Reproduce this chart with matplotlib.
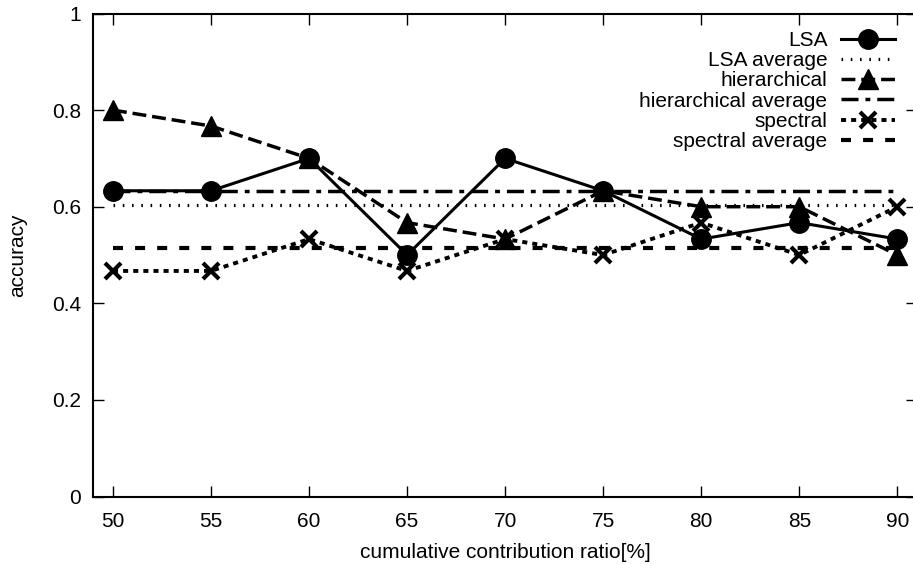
import matplotlib
matplotlib.use("Agg")
import matplotlib.pyplot as plt
import numpy as np

plt.rcParams['font.family'] = ['Liberation Sans', 'DejaVu Sans']

ratio = [50, 55, 60, 65, 70, 75, 80, 85, 90]
lsa = [0.633, 0.633, 0.700, 0.500, 0.700, 0.633, 0.533, 0.567, 0.533]
hierarchical = [0.800, 0.767, 0.700, 0.567, 0.533, 0.633, 0.600, 0.600, 0.500]
spectral = [0.467, 0.467, 0.533, 0.467, 0.533, 0.500, 0.567, 0.500, 0.600]
yticks = [0, 0.2, 0.4, 0.6, 0.8, 1]
ytick_labels = ["0", "0.2", "0.4", "0.6", "0.8", "1"]

lsa_avg = np.mean(lsa)
hier_avg = np.mean(hierarchical)
spec_avg = np.mean(spectral)

fig = plt.figure(figsize=(9.13, 5.64), dpi=100)
W, H = 913, 564
x0, x1, y0, y1 = 93.4, 916.9, 496.5, 13.5
ax = fig.add_axes([x0 / W, 1 - y0 / H, (x1 - x0) / W, (y0 - y1) / H])

fs = 15
ax.plot(ratio, lsa, color='black', lw=2.2, marker='o', markersize=14, label='LSA', zorder=5)
ax.plot([ratio[0], ratio[-1]], [lsa_avg, lsa_avg], color='black', lw=2.3,
        dashes=(0.5, 2.4), label='LSA average', zorder=2)
ax.plot(ratio, hierarchical, color='black', lw=2.5, dashes=(4, 1.7), marker='^',
        markersize=15, label='hierarchical', zorder=4)
ax.plot([ratio[0], ratio[-1]], [hier_avg, hier_avg], color='black', lw=2.5,
        dashes=(4.9, 2.0, 1.4, 2.0), label='hierarchical average', zorder=2)
ax.plot(ratio, spectral, color='black', lw=2.8, dashes=(1.3, 1.3), marker='x',
        markersize=11, markeredgewidth=3, label='spectral', zorder=3)
ax.plot([ratio[0], ratio[-1]], [spec_avg, spec_avg], color='black', lw=3.0,
        dashes=(2.4, 2.9), label='spectral average', zorder=2)

ax.set_xlim(49, 91)
ax.set_ylim(0, 1)
ax.set_xticks(ratio)
ax.set_xticklabels([str(r) for r in ratio], fontsize=fs)
ax.set_yticks(yticks)
ax.set_yticklabels(ytick_labels, fontsize=fs)
ax.tick_params(axis='x', pad=11)
ax.tick_params(axis='y', pad=9)
ax.tick_params(direction='in', length=8, width=1, top=True, right=True)
for s in ax.spines.values():
    s.set_linewidth(1.5)

ax.set_xlabel('cumulative contribution ratio[%]', fontsize=fs, labelpad=9)
ax.set_ylabel('accuracy', fontsize=fs, labelpad=18)

leg = ax.legend(loc='upper right', bbox_to_anchor=(895 / W, 1 - 31 / H),
                bbox_transform=fig.transFigure, frameon=False, markerfirst=False,
                fontsize=fs, handlelength=2.6, handletextpad=0.65, labelspacing=0.06,
                borderpad=0, borderaxespad=0)

fig.savefig('out.png', dpi=100)
